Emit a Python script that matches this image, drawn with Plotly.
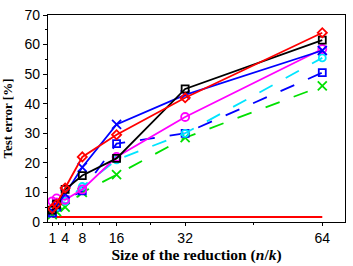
import plotly.graph_objects as go

x = [1, 2, 4, 8, 16, 32, 64]
red_solid = [4.5, 6, 11.5, 22, 29.5, 42, 64]
black_solid = [4, 6, 11, 15.7, 21.5, 45, 61.5]
blue_solid = [3.5, 5.5, 9.5, 18.5, 33, 43, 58]
magenta_solid = [7, 8, 7.5, 11, 22, 35.5, 58.5]
cyan_dash = [4, 5, 7, 12, 21, 30, 55.5]
blue_dash = [3, 5, 7.5, 10.5, 26.5, 30, 50.5]
green_dash = [2.5, 3.5, 5, 10, 16, 28.5, 46]
base_x = [1, 64]
base_y = [1.7, 1.7]

x_ticks = [1, 4, 8, 16, 32, 64]
x_minor = [2.5, 6, 12, 24, 48]
y_ticks = [0, 10, 20, 30, 40, 50, 60, 70]

series = [
    (green_dash, "#00e000", "longdash", "x-thin-open", 9),
    (blue_dash, "#0000ff", "longdash", "square-open", 7),
    (cyan_dash, "#00e5ff", "longdash", "circle-open", 7),
    (magenta_solid, "#ff00ff", "solid", "circle-open", 8),
    (blue_solid, "#0000ff", "solid", "x-thin-open", 9),
    (black_solid, "#000000", "solid", "square-open", 7),
    (red_solid, "#ff0000", "solid", "diamond-open", 7),
]

fig = go.Figure()
fig.add_trace(go.Scatter(x=base_x, y=base_y, mode="lines",
                         line=dict(color="#ff0000", width=2), showlegend=False))
for ys, col, dash, sym, sz in series:
    fig.add_trace(go.Scatter(
        x=x, y=ys, mode="lines+markers",
        line=dict(color=col, width=1.8, dash=dash),
        marker=dict(symbol=sym, size=sz, color=col, line=dict(color=col, width=1.8)),
        showlegend=False))

fig.update_layout(
    width=353, height=266,
    margin=dict(l=43, r=7, t=7, b=42),
    paper_bgcolor="white", plot_bgcolor="white",
    font=dict(family="Liberation Sans, Arial", size=14, color="black"),
)
fig.update_xaxes(
    range=[0, 69.3], tickmode="array", tickvals=x_ticks,
    ticktext=[str(v) for v in x_ticks],
    ticks="outside", ticklen=3, tickwidth=1, tickcolor="black",
    showline=True, linecolor="black", linewidth=1.2, mirror=True,
    showgrid=False, zeroline=False, ticklabeloverflow="allow",
    minor=dict(tickmode="array", tickvals=x_minor, ticks="outside", ticklen=2, tickcolor="black"),
    title=dict(text="<b>Size of the reduction (<i>n</i>/<i>k</i>)</b>",
               font=dict(family="Liberation Serif, DejaVu Serif", size=15.5), standoff=2),
)
fig.update_yaxes(
    range=[0, 70], tickmode="array", tickvals=y_ticks,
    ticks="outside", ticklen=4, tickwidth=1, tickcolor="black",
    showline=True, linecolor="black", linewidth=1.2, mirror=True,
    showgrid=False, zeroline=False, ticklabeloverflow="allow",
    minor=dict(dtick=5, ticks="outside", ticklen=2, tickcolor="black"),
    title=dict(text="<b>Test error [%]</b>",
               font=dict(family="Liberation Serif, DejaVu Serif", size=13), standoff=8),
)

fig.write_html("out.html", config={"displayModeBar": False},
               post_script="document.body.style.margin='0';document.body.style.padding='0';")
